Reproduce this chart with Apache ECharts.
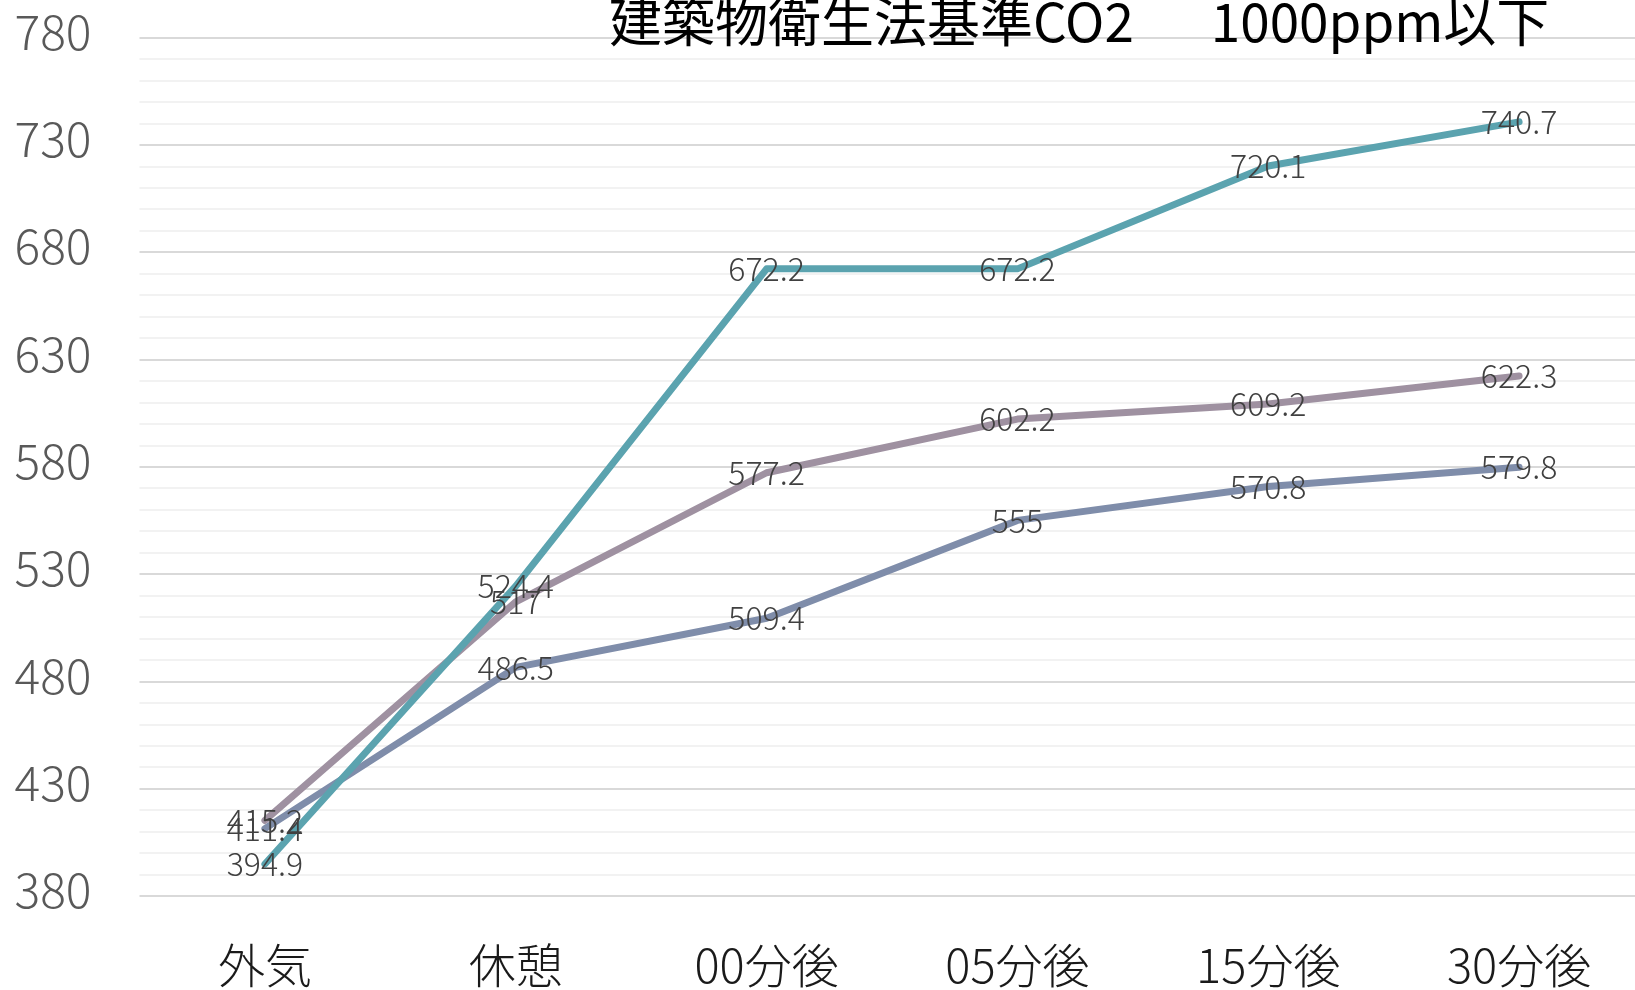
<!DOCTYPE html>
<html>
<head>
<meta charset="utf-8">
<script src="https://cdn.jsdelivr.net/npm/echarts@6/dist/echarts.min.js"></script>
<style>
html,body{margin:0;padding:0;background:#fff;overflow:hidden;}
#chart{width:1660px;height:990px;}
</style>
</head>
<body>
<div id="chart"></div>
<script>
const categories = ['外気', '休憩', '00分後', '05分後', '15分後', '30分後'];
const seriesMauve = [415.2, 517, 577.2, 602.2, 609.2, 622.3];
const seriesBlue = [411.4, 486.5, 509.4, 555, 570.8, 579.8];
const seriesTeal = [394.9, 524.4, 672.2, 672.2, 720.1, 740.7];
const titleMain = '建築物衛生法基準CO2';
const titleSub = '1000ppm以下';

const FONT = '"Noto Sans CJK JP", "Noto Sans", sans-serif';

function mkSeries(name, data, color) {
  return {
    name: name,
    type: 'line',
    data: data,
    symbol: 'circle',
    symbolSize: 1,
    showSymbol: true,
    lineStyle: { color: color, width: 7, cap: 'round', join: 'round' },
    itemStyle: { color: color },
    label: {
      show: true,
      position: 'inside',
      color: '#404040',
      fontFamily: FONT,
      fontSize: 32,
      fontWeight: 300
    },
    emphasis: { disabled: true },
    animation: false
  };
}

const chart = echarts.init(document.getElementById('chart'), null, { renderer: 'canvas' });
chart.setOption({
  backgroundColor: '#ffffff',
  animation: false,
  title: {
    text: '{a|' + titleMain + '}{s|　}{a|' + titleSub + '}',
    left: 604,
    top: -10,
    textStyle: {
      rich: {
        a: { fontFamily: FONT, fontSize: 53, color: '#000000', fontWeight: 400 },
        s: { fontFamily: FONT, fontSize: 53, width: 77 }
      }
    }
  },
  grid: { left: 139.5, top: 37.5, width: 1505, height: 858.5, containLabel: false },
  xAxis: {
    type: 'category',
    data: categories,
    boundaryGap: true,
    axisLine: { show: false },
    axisTick: { show: false },
    axisLabel: {
      color: '#1a1a1a',
      fontFamily: FONT,
      fontSize: 47,
      fontWeight: 300,
      margin: 46
    },
    splitLine: { show: false }
  },
  yAxis: {
    type: 'value',
    min: 380,
    max: 780,
    interval: 50,
    axisLine: { show: false },
    axisTick: { show: false },
    axisLabel: {
      margin: 48,
      formatter: '{v|{value}}',
      rich: {
        v: {
          color: '#595959',
          fontFamily: FONT,
          fontSize: 48,
          fontWeight: 300,
          padding: [0, 0, 12, 0]
        }
      }
    },
    splitLine: { show: true, lineStyle: { color: '#d9d9d9', width: 2 } },
    minorTick: { show: false, splitNumber: 5 },
    minorSplitLine: { show: true, lineStyle: { color: '#f2f2f2', width: 2 } }
  },
  series: [
    mkSeries('A', seriesMauve, '#9f91a1'),
    mkSeries('B', seriesBlue, '#7f8daa'),
    mkSeries('C', seriesTeal, '#5ba3af')
  ]
});
</script>
</body>
</html>
